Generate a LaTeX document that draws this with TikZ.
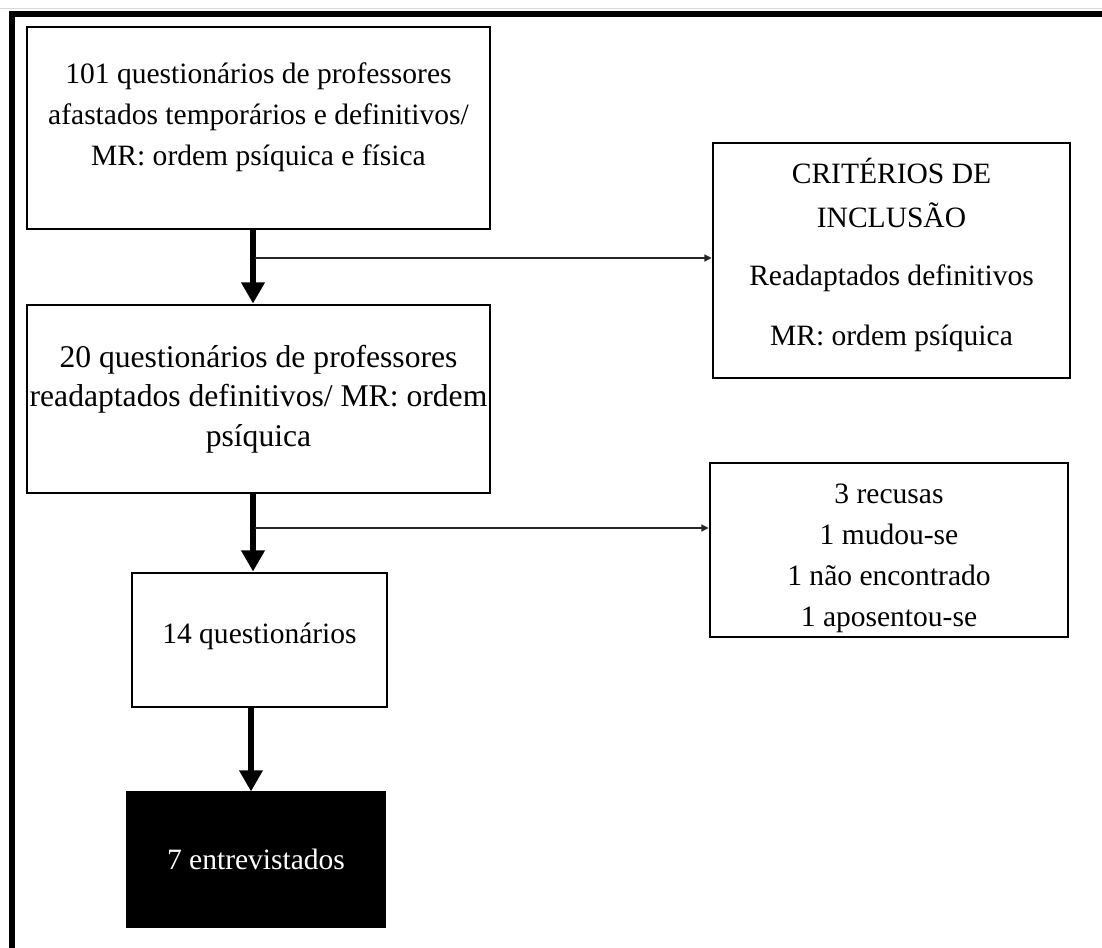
\documentclass[tikz,border=0pt]{standalone}
\usepackage{fontspec}
\setmainfont{Liberation Serif}
\usetikzlibrary{arrows.meta, positioning, calc}

\begin{document}
\begin{tikzpicture}[x=0.25mm, y=-0.25mm,
    box/.style={draw, line width=2.1pt, align=center, inner sep=0pt,
        font=\fontsize{21}{29}\selectfont},
    bigarrow/.style={line width=3.6pt, -{Triangle[width=16pt, length=15pt]}},
    thinarrow/.style={line width=0.8pt, black!85, -{Triangle[width=5pt, length=5pt]}}]
    \useasboundingbox (0,0) rectangle (1102,947);

    % frame
    \draw[black!15, line width=0.7pt] (0,8) -- (1102,8);
    \draw[line width=3.6pt] (12,960) -- (12,14) -- (1110,14);

    \node[box, minimum width=115.75mm, minimum height=50.5mm] (q101) at (258.5,128)
        {101 questionários de professores\\afastados temporários e definitivos/\\MR: ordem psíquica e física\\[-3.25mm]};
    \node[box, minimum width=115.75mm, minimum height=47mm,
        font=\fontsize{22.5}{28}\selectfont] (q20) at (258.5,399)
        {20 questionários de professores\\readaptados definitivos/ MR: ordem\\psíquica};
    \node[box, minimum width=89.25mm, minimum height=58.75mm,
        font=\fontsize{21}{31.5}\selectfont] (crit) at (891.5,260.5)
        {CRITÉRIOS DE\\INCLUSÃO\\[3.5mm]Readaptados definitivos\\[3.8mm]MR: ordem psíquica\\[-6.5mm]};
    \node[box, minimum width=89.5mm, minimum height=43.5mm] (perdas) at (889,550)
        {\rule{0pt}{26pt}3 recusas\\1 mudou-se\\1 não encontrado\\1 aposentou-se};
    \node[box, minimum width=63.75mm, minimum height=33.5mm] (q14) at (259.5,640)
        {14 questionários\\[-6.75mm]};
    \node[box, fill=black, text=white, line width=0.8pt,
        minimum width=64.5mm, minimum height=33.75mm] (ent) at (256,859.5)
        {7 entrevistados};

    % arrows
    \draw[bigarrow] (q101.south -| 253,0) -- (q20.north -| 253,0);
    \draw[bigarrow] (q20.south -| 253,0) -- (q14.north -| 253,0);
    \draw[bigarrow] (q14.south -| 251,0) -- (ent.north -| 251,0);

    \coordinate (br1) at (255,258);
    \coordinate (br2) at (255,528);
    \draw[thinarrow] (br1) -- (br1 -| crit.west);
    \draw[thinarrow] (br2) -- (br2 -| perdas.west);
\end{tikzpicture}
\end{document}
